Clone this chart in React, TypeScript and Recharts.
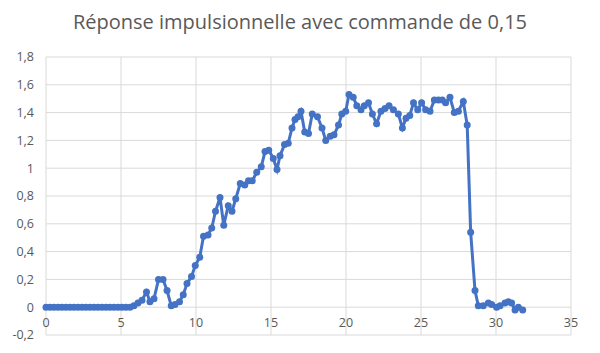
import { CartesianGrid, Line, LineChart, XAxis, YAxis } from "recharts";

// temps (s) et réponse
const TIMES = [
  0, 0.27, 0.53, 0.8, 1.06, 1.33, 1.6, 1.86, 2.13, 2.4, 2.66, 2.93, 3.2, 3.46, 3.73, 4.0, 4.26, 4.53,
  4.8, 5.06, 5.33, 5.6, 5.86, 6.13, 6.4, 6.7, 6.93, 7.2, 7.5, 7.8, 8.07, 8.35, 8.6, 8.9, 9.15, 9.4,
  9.7, 9.95, 10.25, 10.5, 10.8, 11.05, 11.3, 11.6, 11.85, 12.15, 12.4, 12.65, 12.95, 13.25, 13.5,
  13.75, 14.05, 14.35, 14.6, 14.85, 15.15, 15.4, 15.6, 15.9, 16.15, 16.4, 16.6, 16.8, 17.0, 17.25,
  17.5, 17.75, 18.1, 18.4, 18.65, 18.95, 19.2, 19.5, 19.72, 19.98, 20.2, 20.48, 20.72, 21.0, 21.22,
  21.5, 21.76, 22.04, 22.33, 22.6, 22.87, 23.16, 23.49, 23.76, 24.0, 24.25, 24.5, 24.78, 25.04,
  25.31, 25.6, 25.89, 26.16, 26.42, 26.64, 26.93, 27.22, 27.49, 27.82, 28.08, 28.31, 28.6, 28.82,
  29.15, 29.49, 29.71, 30.04, 30.27, 30.6, 30.82, 31.04, 31.27, 31.49, 31.78,
];

const RESPONSE = [
  0, 0, 0, 0, 0, 0, 0, 0, 0, 0, 0, 0, 0, 0, 0, 0, 0, 0,
  0, 0, 0, 0, 0.01, 0.03, 0.05, 0.11, 0.04, 0.06, 0.2, 0.2, 0.12, 0.01, 0.02, 0.04, 0.09, 0.17,
  0.22, 0.3, 0.36, 0.51, 0.52, 0.57, 0.69, 0.79, 0.59, 0.73, 0.69, 0.78, 0.89, 0.88, 0.91,
  0.91, 0.97, 1.01, 1.12, 1.13, 1.07, 0.99, 1.09, 1.17, 1.18, 1.29, 1.35, 1.37, 1.41, 1.26,
  1.25, 1.39, 1.37, 1.29, 1.2, 1.23, 1.24, 1.31, 1.39, 1.41, 1.53, 1.51, 1.45, 1.42, 1.45,
  1.47, 1.39, 1.32, 1.41, 1.43, 1.45, 1.42, 1.39, 1.29, 1.36, 1.38, 1.47, 1.42, 1.47,
  1.42, 1.41, 1.49, 1.49, 1.49, 1.47, 1.51, 1.4, 1.41, 1.48, 1.31, 0.54, 0.12, 0.01,
  0.01, 0.03, 0.02, 0, 0.01, 0.03, 0.04, 0.03, -0.02, 0, -0.02,
];

const X_TICKS = [0, 5, 10, 15, 20, 25, 30, 35];
const Y_TICKS = [-0.2, 0, 0.2, 0.4, 0.6, 0.8, 1, 1.2, 1.4, 1.6, 1.8];

const data = TIMES.map((t, i) => ({ t, v: RESPONSE[i] }));

const BLUE = "#4472C4";
const FONT = "'Open Sans', 'Noto Sans', sans-serif";

function formatFr(value: number) {
  return String(Math.round(value * 10) / 10).replace(".", ",");
}

function XTick(props: any) {
  const { x, y, payload } = props;
  return (
    <text x={x} y={y - 16} textAnchor="middle" fill="#595959" fontSize={12.5} fontFamily={FONT}>
      {payload.value}
    </text>
  );
}

export default function App() {
  return (
    <div style={{ position: "absolute", left: 0, top: 0, width: 600, height: 353, background: "#fff" }}>
      <div
        style={{
          position: "absolute",
          top: 8,
          left: 0,
          width: 600,
          textAlign: "center",
          fontFamily: FONT,
          fontSize: 20,
          color: "#595959",
        }}
      >
        Réponse impulsionnelle avec commande de 0,15
      </div>
      <LineChart width={600} height={353} data={data} margin={{ top: 57, right: 29, bottom: 0, left: 8 }}>
        <CartesianGrid stroke="#d9d9d9" />
        <XAxis
          dataKey="t"
          type="number"
          domain={[0, 35]}
          ticks={X_TICKS}
          axisLine={false}
          tickLine={false}
          height={18}
          tick={<XTick />}
          interval={0}
        />
        <YAxis
          type="number"
          domain={[-0.2, 1.8]}
          ticks={Y_TICKS}
          axisLine={false}
          tickLine={false}
          width={38}
          tickMargin={6}
          interval={0}
          tickFormatter={formatFr}
          tick={{ fill: "#595959", fontSize: 12.5, fontFamily: FONT }}
        />
        <Line
          dataKey="v"
          stroke={BLUE}
          strokeWidth={3}
          dot={{ r: 3.5, fill: BLUE, stroke: BLUE, strokeWidth: 0 }}
          isAnimationActive={false}
        />
      </LineChart>
    </div>
  );
}
